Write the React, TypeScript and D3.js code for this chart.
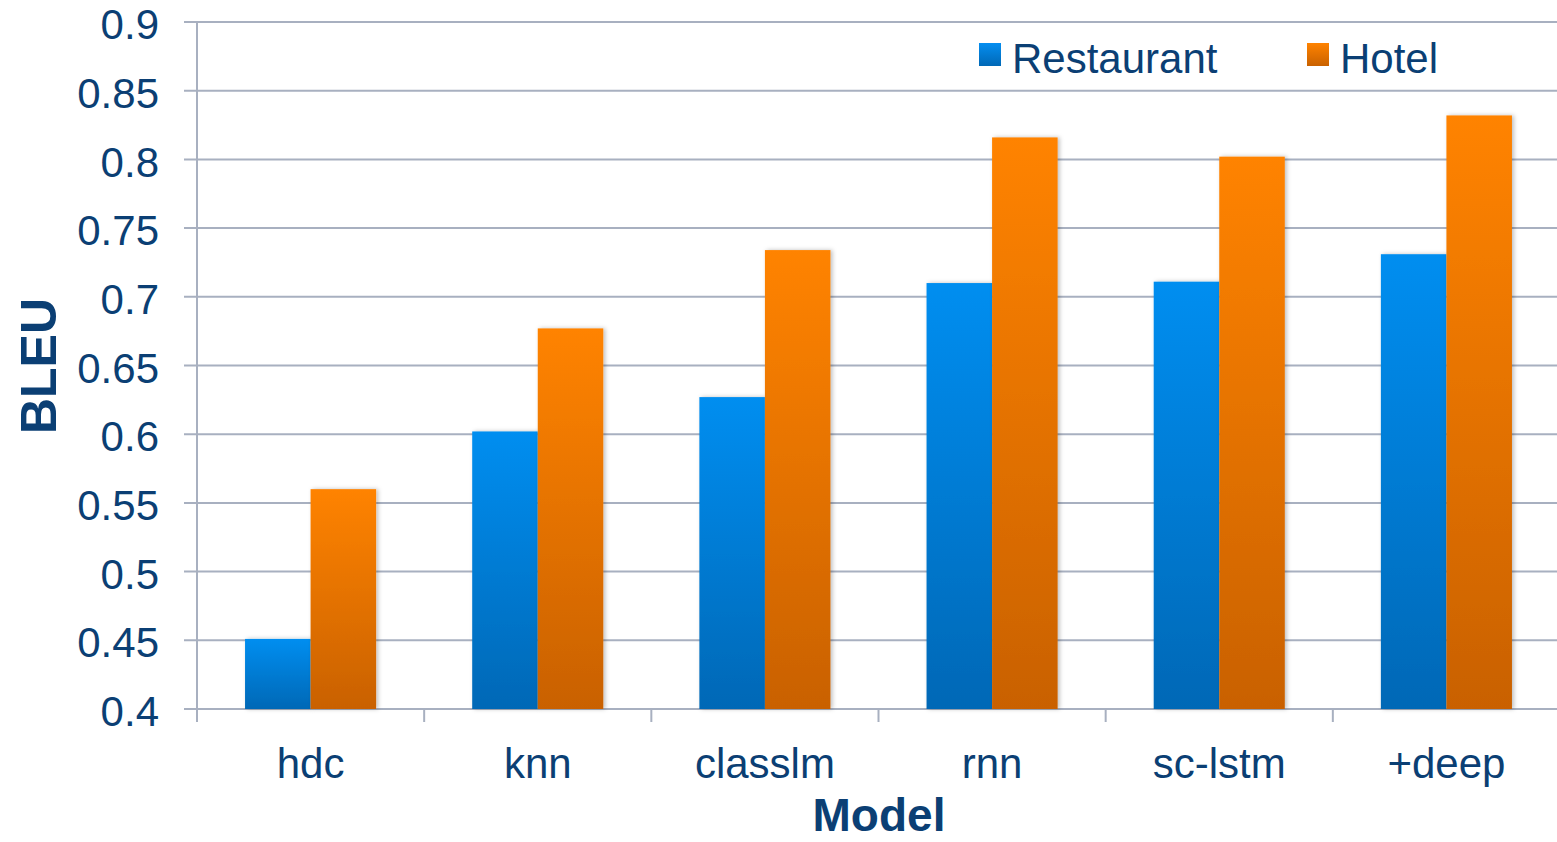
import { useRef, useEffect } from "react";
import * as d3 from "d3";

const models = ["hdc", "knn", "classlm", "rnn", "sc-lstm", "+deep"];
const series = ["Restaurant", "Hotel"];
const restaurant = [0.451, 0.602, 0.627, 0.71, 0.711, 0.731];
const hotel = [0.56, 0.677, 0.734, 0.816, 0.802, 0.832];
const yTicks = [0.4, 0.45, 0.5, 0.55, 0.6, 0.65, 0.7, 0.75, 0.8, 0.85, 0.9];

const TEXT = "#0b3f74";
const GRID = "#a8b0c0";

export default function App() {
  const svgRef = useRef<SVGSVGElement>(null);

  useEffect(() => {
    const width = 1557;
    const height = 842;
    const margin = { top: 22, right: -3, bottom: 133, left: 197 };

    const svg = d3.select(svgRef.current);
    svg.selectAll("*").remove();
    svg.attr("width", width).attr("height", height)
      .style("font-family", "'Liberation Sans', Arial, sans-serif");

    const defs = svg.append("defs");
    const grads = [
      { id: "gBlue", top: "#058ef0", bot: "#0068b6" },
      { id: "gOrange", top: "#ff8300", bot: "#c96100" },
    ];
    grads.forEach((g) => {
      const lg = defs.append("linearGradient").attr("id", g.id)
        .attr("x1", 0).attr("y1", 0).attr("x2", 0).attr("y2", 1);
      lg.append("stop").attr("offset", "0%").attr("stop-color", g.top);
      lg.append("stop").attr("offset", "100%").attr("stop-color", g.bot);
    });
    defs.append("filter").attr("id", "shadow")
      .attr("x", "-10%").attr("y", "-10%").attr("width", "130%").attr("height", "120%")
      .append("feDropShadow")
      .attr("dx", 2).attr("dy", 0).attr("stdDeviation", 2)
      .attr("flood-color", "#000").attr("flood-opacity", 0.25);

    const x0 = d3.scaleBand()
      .domain(models)
      .range([margin.left, width - margin.right])
      .padding(0);

    const x1 = d3.scaleBand()
      .domain(series)
      .range([0, x0.bandwidth()])
      .paddingInner(0)
      .paddingOuter(0.733);

    const y = d3.scaleLinear()
      .domain([0.4, 0.9])
      .range([height - margin.bottom, margin.top]);

    // gridlines + y ticks
    svg.append("g")
      .selectAll("line")
      .data(yTicks)
      .join("line")
      .attr("x1", margin.left - 13)
      .attr("x2", width)
      .attr("y1", (d) => y(d))
      .attr("y2", (d) => y(d))
      .attr("stroke", GRID)
      .attr("stroke-width", 2);

    // y axis line
    svg.append("line")
      .attr("x1", margin.left).attr("x2", margin.left)
      .attr("y1", y(0.9)).attr("y2", y(0.4))
      .attr("stroke", GRID).attr("stroke-width", 2);

    // x ticks at category boundaries
    const bounds = models.map((m) => x0(m)!).concat([x0(models[models.length - 1])! + x0.bandwidth()]);
    svg.append("g")
      .selectAll("line")
      .data(bounds)
      .join("line")
      .attr("x1", (d) => d)
      .attr("x2", (d) => d)
      .attr("y1", y(0.4))
      .attr("y2", y(0.4) + 13)
      .attr("stroke", GRID)
      .attr("stroke-width", 2);

    // y tick labels
    svg.append("g")
      .selectAll("text")
      .data(yTicks)
      .join("text")
      .attr("x", 159)
      .attr("y", (d) => y(d) + 2)
      .attr("dy", "0.36em")
      .attr("text-anchor", "end")
      .attr("fill", TEXT)
      .attr("font-size", 42)
      .text((d) => String(+d.toFixed(2)));

    // bars
    const colors = ["url(#gBlue)", "url(#gOrange)"];
    const values = [restaurant, hotel];
    const groups = svg.append("g")
      .selectAll("g")
      .data(models)
      .join("g")
      .attr("transform", (d) => `translate(${x0(d)},0)`);

    groups.selectAll("rect")
      .data((_, i) => series.map((s, k) => ({ s, v: values[k][i], k })))
      .join("rect")
      .attr("x", (d) => x1(d.s)!)
      .attr("width", x1.bandwidth())
      .attr("y", (d) => y(d.v))
      .attr("height", (d) => y(0.4) - y(d.v))
      .attr("fill", (d) => colors[d.k])
      .attr("filter", "url(#shadow)");

    // category labels
    svg.append("g")
      .selectAll("text")
      .data(models)
      .join("text")
      .attr("x", (d) => x0(d)! + x0.bandwidth() / 2)
      .attr("y", 778)
      .attr("text-anchor", "middle")
      .attr("fill", TEXT)
      .attr("font-size", 42)
      .text((d) => d);

    // axis titles
    svg.append("text")
      .attr("x", 879)
      .attr("y", 831)
      .attr("text-anchor", "middle")
      .attr("fill", TEXT)
      .attr("font-size", 46)
      .attr("font-weight", "bold")
      .text("Model");

    svg.append("text")
      .attr("transform", "translate(56,366) rotate(-90)")
      .attr("text-anchor", "middle")
      .attr("fill", TEXT)
      .attr("font-size", 50)
      .attr("font-weight", "bold")
      .text("BLEU");

    // legend
    const legendX = [979, 1307];
    const leg = svg.append("g")
      .selectAll("g")
      .data(series)
      .join("g")
      .attr("transform", (_, i) => `translate(${legendX[i]},43)`);
    leg.append("rect")
      .attr("width", 22).attr("height", 23)
      .attr("fill", (_, i) => colors[i]);
    leg.append("text")
      .attr("x", 33).attr("y", 30)
      .attr("fill", TEXT)
      .attr("font-size", 42)
      .text((d) => d);
  }, []);

  return <svg ref={svgRef} style={{ position: "absolute", left: 0, top: 0 }} />;
}
